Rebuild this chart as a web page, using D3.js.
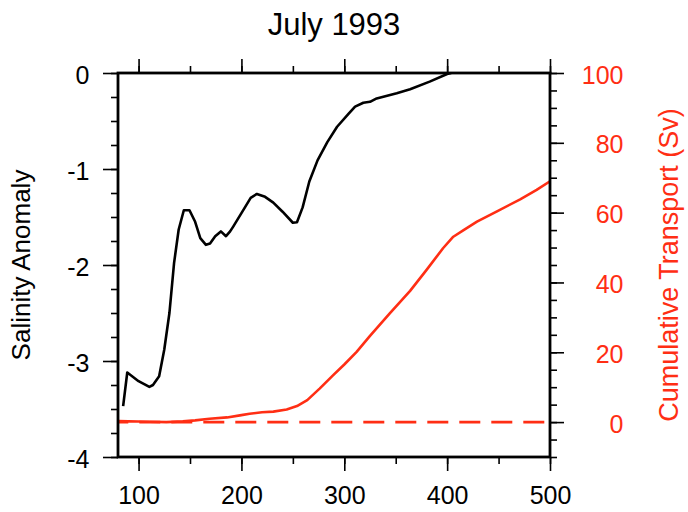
<!DOCTYPE html>
<html>
<head>
<meta charset="utf-8">
<script src="https://cdn.jsdelivr.net/npm/d3@7"></script>
<style>
  body { margin: 0; background: #fff; }
  svg text { font-family: "Liberation Sans", Arial, Helvetica, sans-serif; }
</style>
</head>
<body>
<svg id="chart" width="688" height="512"></svg>
<script>
// Salinity anomaly along the section (left axis)
const salDist = [85, 89, 100, 110.5, 114, 120, 125, 130, 134.5, 139, 144, 149.5, 155, 160, 165.5, 169.5,
  174.5, 180, 185, 189, 192, 200, 209, 215, 223, 231, 240, 250, 254, 259.5, 266, 274, 283.5, 293,
  304.5, 310.5, 318.5, 325, 331.5, 351, 364, 383, 400, 404];
const salinity = [-3.47, -3.12, -3.21, -3.27, -3.25, -3.16, -2.88, -2.50, -1.98, -1.63, -1.43, -1.43, -1.55,
  -1.72, -1.79, -1.775, -1.70, -1.65, -1.70, -1.65, -1.60, -1.46, -1.30, -1.26, -1.29, -1.35, -1.445,
  -1.56, -1.555, -1.40, -1.13, -0.91, -0.72, -0.56, -0.42, -0.35, -0.31, -0.30, -0.265, -0.21, -0.17,
  -0.09, -0.01, 0.0];

// Cumulative transport (right axis, Sv)
const trDist = [80, 90, 100, 111, 127, 143, 155, 169, 186, 200, 208, 220, 231, 244, 254, 264, 276, 289,
  300, 312, 325, 344, 364, 380, 396, 406, 416, 429, 448, 471, 487, 500];
const transport = [0.3, 0.2, 0.15, 0.1, 0.0, 0.2, 0.5, 0.96, 1.34, 2.0, 2.4, 2.8, 3.0, 3.6, 4.6, 6.3, 9.6,
  13.4, 16.5, 20.1, 24.7, 31.1, 37.6, 43.6, 49.8, 53.1, 55.0, 57.4, 60.3, 63.8, 66.5, 69.0];

// Axis ticks and labels
const xMajor = [100, 200, 300, 400, 500];
const xMinor = [100, 150, 200, 250, 300, 350, 400, 450, 500];
const yLeftMajor = [0, -1, -2, -3, -4];
const yLeftMinor = d3.range(-4, 0.001, 0.25);
const yRightMajor = [0, 20, 40, 60, 80, 100];
const yRightMinor = d3.range(-10, 100.001, 5);
const titleText = "July 1993";
const leftTitle = "Salinity Anomaly";
const rightTitle = "Cumulative Transport (Sv)";

const RED = "#ff2e14";
const svg = d3.select("#chart");
const L = 118, R = 550, T = 73, B = 457;

const x = d3.scaleLinear().domain([80, 500]).range([L, R]);
const yL = d3.scaleLinear().domain([-4, 0]).range([B, T]);
const yR = d3.scaleLinear().domain([-10, 100]).range([B, T]);

svg.append("defs").append("clipPath").attr("id", "plot")
  .append("rect").attr("x", L).attr("y", T).attr("width", R - L).attr("height", B - T);

const plot = svg.append("g").attr("clip-path", "url(#plot)");

// zero reference for transport
plot.append("line")
  .attr("x1", x(80)).attr("x2", x(500))
  .attr("y1", yR(0)).attr("y2", yR(0))
  .attr("stroke", RED).attr("stroke-width", 2.6)
  .attr("stroke-dasharray", "21,11").attr("stroke-dashoffset", 10.7);

plot.append("path")
  .datum(trDist.map((d, i) => [d, transport[i]]))
  .attr("fill", "none").attr("stroke", RED).attr("stroke-width", 2.6)
  .attr("stroke-linejoin", "round")
  .attr("d", d3.line().x(d => x(d[0])).y(d => yR(d[1])));

plot.append("path")
  .datum(salDist.map((d, i) => [d, salinity[i]]))
  .attr("fill", "none").attr("stroke", "#000").attr("stroke-width", 2.6)
  .attr("stroke-linejoin", "round")
  .attr("d", d3.line().x(d => x(d[0])).y(d => yL(d[1])));

function styleAxis(g) {
  g.select(".domain").remove();
  g.selectAll(".tick line").attr("stroke", "#000").attr("stroke-width", 1.6);
}

// minor ticks
svg.append("g").attr("transform", `translate(0,${B})`)
  .call(d3.axisBottom(x).tickValues(xMinor).tickSize(7).tickFormat(""))
  .call(styleAxis);
svg.append("g").attr("transform", `translate(0,${T})`)
  .call(d3.axisTop(x).tickValues(xMinor).tickSize(7).tickFormat(""))
  .call(styleAxis);
svg.append("g").attr("transform", `translate(${L},0)`)
  .call(d3.axisLeft(yL).tickValues(yLeftMinor).tickSize(7).tickFormat(""))
  .call(styleAxis);
svg.append("g").attr("transform", `translate(${R},0)`)
  .call(d3.axisRight(yR).tickValues(yRightMinor).tickSize(7).tickFormat(""))
  .call(styleAxis);

// major ticks with labels
const bottom = svg.append("g").attr("transform", `translate(0,${B})`)
  .call(d3.axisBottom(x).tickValues(xMajor).tickSize(14).tickPadding(15).tickFormat(d3.format("d")))
  .call(styleAxis);
bottom.selectAll("text").attr("font-size", 25).attr("fill", "#000");

svg.append("g").attr("transform", `translate(0,${T})`)
  .call(d3.axisTop(x).tickValues(xMajor).tickSize(14).tickFormat(""))
  .call(styleAxis);

const left = svg.append("g").attr("transform", `translate(${L},0)`)
  .call(d3.axisLeft(yL).tickValues(yLeftMajor).tickSize(15).tickPadding(13.5).tickFormat(d => d === 0 ? "0" : "-" + Math.abs(d)))
  .call(styleAxis);
left.selectAll("text").attr("font-size", 25).attr("fill", "#000").attr("dy", "0.4em");

const right = svg.append("g").attr("transform", `translate(${R},0)`)
  .call(d3.axisRight(yR).tickValues(yRightMajor).tickSize(14).tickFormat(d3.format("d")))
  .call(styleAxis);
right.selectAll("text").attr("font-size", 25).attr("fill", RED)
  .attr("text-anchor", "end").attr("x", 73.5).attr("dy", "0.4em");

// frame
svg.append("rect").attr("x", L).attr("y", T).attr("width", R - L).attr("height", B - T)
  .attr("fill", "none").attr("stroke", "#000").attr("stroke-width", 2.8);

// titles
svg.append("text").attr("x", (L + R) / 2).attr("y", 35).attr("text-anchor", "middle")
  .attr("font-size", 31).attr("fill", "#000").text(titleText);

svg.append("text").attr("transform", `translate(30,${(T + B) / 2}) rotate(-90)`)
  .attr("text-anchor", "middle").attr("font-size", 26).attr("fill", "#000").text(leftTitle);

svg.append("text").attr("transform", `translate(678,${(T + B) / 2}) rotate(-90)`)
  .attr("text-anchor", "middle").attr("font-size", 27).attr("fill", RED).text(rightTitle);
</script>
</body>
</html>
